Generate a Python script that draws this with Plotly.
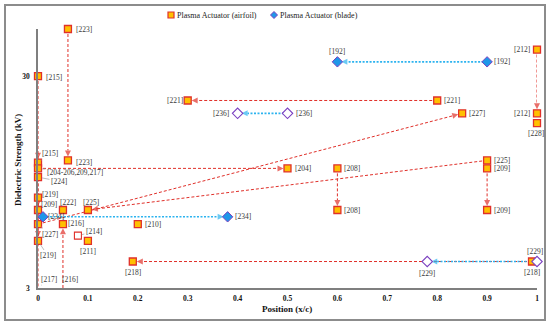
import math
import plotly.graph_objects as go

# ---------------- data ----------------
# Plasma Actuator (airfoil): reference, position x/c, dielectric strength kV
af_ref = ["[223]", "[215]", "[215]", "[223]", "[204-206,209,217]", "[224]", "[219]", "[209]",
          "[222]", "[225]", "[227]", "[216]", "[214]", "[211]", "[219]", "[217]", "[216]",
          "[210]", "[218]", "[221]", "[204]", "[208]", "[208]", "[221]", "[227]", "[225]",
          "[209]", "[209]", "[212]", "[212]", "[228]", "[218]"]
af_x = [0.06, 0.0, 0.0, 0.06, 0.0, 0.0, 0.0, 0.0,
        0.05, 0.1, 0.0, 0.05, 0.08, 0.1, 0.0, 0.0, 0.05,
        0.2, 0.19, 0.3, 0.5, 0.6, 0.6, 0.8, 0.85, 0.9,
        0.9, 0.9, 1.0, 1.0, 1.0, 0.99]
af_y = [50, 30, 11.7, 12, 11, 10, 8, 7,
        7, 7, 6, 6, 5.3, 5, 5, 3, 3,
        6, 4, 23, 11, 11, 7, 23, 20, 12,
        11, 7, 40, 20, 18, 4]
af_open = [False] * 32
af_open[12] = True   # [214]
af_open[15] = True   # [217]

# Plasma Actuator (blade)
bl_ref = ["[192]", "[192]", "[234]", "[234]", "[236]", "[236]", "[229]", "[229]"]
bl_x = [0.6, 0.9, 0.01, 0.38, 0.4, 0.5, 0.78, 1.0]
bl_y = [35, 35, 6.5, 6.5, 20, 20, 4, 4]
bl_open = [False, False, False, False, True, True, True, True]

# connections (from index -> to index, arrow at "to")
af_links = [(0, 3), (1, 2), (4, 20), (4, 7), (6, 14), (4, 15), (10, 24), (25, 9),
            (16, 11), (31, 18), (23, 19), (21, 22), (26, 27), (28, 29)]
bl_links = [(1, 0), (2, 3), (5, 4), (7, 6)]

series_names = ["Plasma Actuator (airfoil)", "Plasma Actuator (blade)"]
x_ticks = [0, 0.1, 0.2, 0.3, 0.4, 0.5, 0.6, 0.7, 0.8, 0.9, 1]
x_tick_text = ["0", "0.1", "0.2", "0.3", "0.4", "0.5", "0.6", "0.7", "0.8", "0.9", "1"]
y_ticks = [3, 30]
y_tick_text = ["3", "30"]

# ---------------- styles ----------------
# label offsets (dx px, dy px screen-down, leader line flag)
af_lab_style = [(16, 0, 0), (16, 1, 0), (12, -9, 1), (16, 2, 0), (37, 4, 1), (21, 4, 1),
                (12, -3, 0), (11, -6, 0), (5, -8, 0), (3, -8, 0), (12, 10, 1), (13, -1, 0),
                (16, -4, 1), (0, 11, 0), (10, 15, 1), (11, -9, 1), (7, -9, 1), (15, 0, 0),
                (0, 11, 0), (-13, 0, 0), (15, 0, 0), (15, 0, 0), (15, 0, 0), (15, 0, 0),
                (15, 0, 0), (15, 0, 0), (15, 0, 0), (15, 0, 0), (-15, 0, 0), (-15, 0, 0),
                (-1, 10, 0), (0, 11, 0)]
bl_lab_style = [(0, -10, 0), (15, 0, 0), (13, 0, 0), (15, 0, 0), (-17, 0, 0), (16, 0, 0),
                (0, 12, 0), (-2, -10, 0)]

RED = "#e0302a"
GOLD = "#ffc000"
BLUE_LINE = "#2cb3ef"
BLUE_FILL = "#1f97e8"
PURPLE = "#7a3fc0"
AXIS = "#7f7f7f"
LABEL = "#3a3a3a"
FONT = "Liberation Serif"

W, H = 550, 326
ML, MR, MT, MB = 38, 13, 29, 38
PW, PH = W - ML - MR, H - MT - MB


def px_x(p):
    return (p - ML) / PW


def px_y(p):
    return (H - MB - p) / PH


fig = go.Figure()


def add_link(xs, ys, i, j, color, dash, width):
    fig.add_trace(go.Scatter(
        x=[xs[i], xs[j]], y=[ys[i], ys[j]], mode="lines+markers",
        line=dict(color=color, dash=dash, width=width),
        marker=dict(symbol="arrow-up", size=[0, 6], angleref="previous",
                    standoff=[0, 4], color=color, line=dict(width=0)),
        showlegend=False, hoverinfo="skip", cliponaxis=False))


for i, j in af_links:
    add_link(af_x, af_y, i, j, RED, "3px,2px", 1)
for i, j in bl_links:
    add_link(bl_x, bl_y, i, j, BLUE_LINE, "2px,1.5px", 1.6)

# airfoil markers
af_fx = [x for x, o in zip(af_x, af_open) if not o]
af_fy = [y for y, o in zip(af_y, af_open) if not o]
af_ox = [x for x, o in zip(af_x, af_open) if o]
af_oy = [y for y, o in zip(af_y, af_open) if o]
fig.add_trace(go.Scatter(x=af_fx, y=af_fy, mode="markers", name=series_names[0],
                         marker=dict(symbol="square", size=7, color=GOLD, line=dict(color=RED, width=1.3)),
                         cliponaxis=False))
fig.add_trace(go.Scatter(x=af_ox, y=af_oy, mode="markers", showlegend=False,
                         marker=dict(symbol="square", size=7, color="white", line=dict(color=RED, width=1.1)),
                         cliponaxis=False))

bl_fx = [x for x, o in zip(bl_x, bl_open) if not o]
bl_fy = [y for y, o in zip(bl_y, bl_open) if not o]
bl_ox = [x for x, o in zip(bl_x, bl_open) if o]
bl_oy = [y for y, o in zip(bl_y, bl_open) if o]
fig.add_trace(go.Scatter(x=bl_fx, y=bl_fy, mode="markers", name=series_names[1],
                         marker=dict(symbol="diamond", size=8, color=BLUE_FILL, line=dict(color=PURPLE, width=1)),
                         cliponaxis=False))
fig.add_trace(go.Scatter(x=bl_ox, y=bl_oy, mode="markers", showlegend=False,
                         marker=dict(symbol="diamond", size=8, color="white", line=dict(color=PURPLE, width=1.1)),
                         cliponaxis=False))

annotations = []


def add_labels(refs, xs, ys, styles):
    for r, x, y, (dx, dy, lead) in zip(refs, xs, ys, styles):
        if lead:
            annotations.append(dict(x=x, y=math.log10(y), text=r, showarrow=True, ax=dx, ay=dy,
                                    arrowhead=0, arrowwidth=0.7, arrowcolor="#a0a0a0", standoff=4,
                                    font=dict(family=FONT, size=7.5, color=LABEL)))
        else:
            annotations.append(dict(x=x, y=math.log10(y), text=r, showarrow=False,
                                    xshift=dx, yshift=-dy, xanchor="center", yanchor="middle",
                                    font=dict(family=FONT, size=7.5, color=LABEL)))


add_labels(af_ref, af_x, af_y, af_lab_style)
add_labels(bl_ref, bl_x, bl_y, bl_lab_style)

annotations.append(dict(xref="paper", yref="paper", x=px_x(287), y=px_y(309), text="<b>Position (x/c)</b>",
                        showarrow=False, font=dict(family=FONT, size=9, color="#111"),
                        xanchor="center", yanchor="middle"))
annotations.append(dict(xref="paper", yref="paper", x=px_x(18), y=px_y(160),
                        text="<b>Dielectric Strength (kV)</b>", textangle=-90,
                        showarrow=False, font=dict(family=FONT, size=9, color="#111"),
                        xanchor="center", yanchor="middle"))

# custom legend (symbol right next to the text, as in the reference)
annotations.append(dict(xref="paper", yref="paper", x=px_x(175), y=px_y(15), text=series_names[0],
                        showarrow=False, xanchor="left", yanchor="middle",
                        font=dict(family=FONT, size=8, color="#222")))
annotations.append(dict(xref="paper", yref="paper", x=px_x(278), y=px_y(15), text=series_names[1],
                        showarrow=False, xanchor="left", yanchor="middle",
                        font=dict(family=FONT, size=8, color="#222")))

cx, cy, d = 274, 15, 3.5
diamond_path = "M{},{} L{},{} L{},{} L{},{} Z".format(
    px_x(cx), px_y(cy - d), px_x(cx + d), px_y(cy), px_x(cx), px_y(cy + d), px_x(cx - d), px_y(cy))

shapes = [
    dict(type="rect", xref="paper", yref="paper", x0=px_x(5), x1=px_x(545),
         y0=px_y(320), y1=px_y(5), line=dict(color="#8c8c8c", width=2), layer="below"),
    dict(type="rect", xref="paper", yref="paper", x0=px_x(168), x1=px_x(174),
         y0=px_y(18), y1=px_y(12), fillcolor=GOLD, line=dict(color=RED, width=1.2)),
    dict(type="path", xref="paper", yref="paper", path=diamond_path,
         fillcolor=BLUE_FILL, line=dict(color=PURPLE, width=1)),
]

fig.update_layout(
    width=W, height=H,
    margin=dict(l=ML, r=MR, t=MT, b=MB, autoexpand=False),
    paper_bgcolor="white", plot_bgcolor="white",
    font=dict(family=FONT, size=8, color="#222"),
    xaxis=dict(range=[0, 1], tickvals=x_ticks, ticktext=["<b>%s</b>" % t for t in x_tick_text],
               showgrid=False, zeroline=False, showline=True, linecolor=AXIS, linewidth=1.5,
               ticks="", ticklabelstandoff=2, tickfont=dict(family=FONT, size=7.5, color="#111")),
    yaxis=dict(type="log", range=[math.log10(3), math.log10(50)], tickvals=y_ticks,
               ticktext=["<b>%s</b>" % t for t in y_tick_text],
               showgrid=False, zeroline=False, showline=True, linecolor=AXIS, linewidth=1.5,
               ticks="", ticklabelstandoff=5, tickfont=dict(family=FONT, size=7.5, color="#111")),
    showlegend=False,
    annotations=annotations,
    shapes=shapes,
)

fig.write_html("out.html", config={"displayModeBar": False},
               post_script="document.body.style.margin='0';")
